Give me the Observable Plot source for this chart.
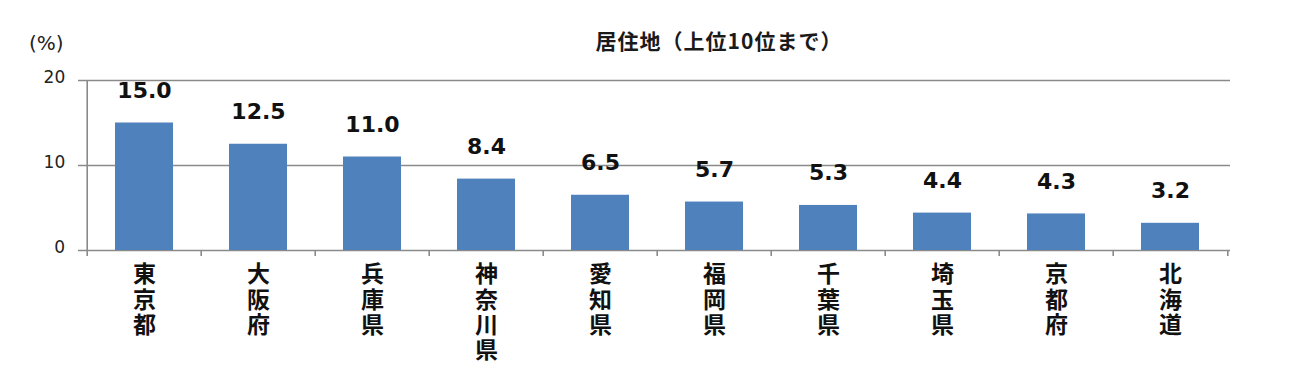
<!DOCTYPE html>
<html>
<head>
<meta charset="utf-8">
<script src="https://cdn.jsdelivr.net/npm/d3@7"></script>
<script src="https://cdn.jsdelivr.net/npm/@observablehq/plot@0.6"></script>
<style>
  body { margin: 0; background: #fff; }
  #wrap { position: relative; width: 1289px; height: 379px; overflow: hidden; }
  #title { position: absolute; left: 0; width: 1438px; top: 26px; text-align: center;
    font-family: "Noto Sans CJK JP", sans-serif; font-weight: bold; font-size: 21px; color: #1a1a1a; line-height: 28px; letter-spacing: 1px; }
  #unit { position: absolute; left: 29px; top: 31px; font-family: "DejaVu Sans", sans-serif; font-size: 20px; color: #222; }
  #chart { position: absolute; left: 0; top: 0; }
</style>
</head>
<body>
<div id="wrap">
  <div id="chart"></div>
  <div id="title">居住地（上位10位まで）</div>
  <div id="unit">(%)</div>
</div>
<script>
const categories = ["東京都", "大阪府", "兵庫県", "神奈川県", "愛知県", "福岡県", "千葉県", "埼玉県", "京都府", "北海道"];
const values = [15.0, 12.5, 11.0, 8.4, 6.5, 5.7, 5.3, 4.4, 4.3, 3.2];
const yTicks = [0, 10, 20];

const data = categories.map((c, i) => ({name: c, value: values[i]}));

const W = 1289, H = 379;
const mL = 84, mR = 59, mT = 80, mB = 129;
const step = (W - mL - mR) / categories.length;

const plot = Plot.plot({
  width: W,
  height: H,
  marginLeft: mL,
  marginRight: mR,
  marginTop: mT,
  marginBottom: mB,
  style: {background: "transparent", overflow: "visible"},
  x: {domain: categories, paddingInner: 0.49, paddingOuter: 0.245, axis: null},
  y: {domain: [0, 20], axis: null},
  marks: [
    Plot.ruleY(yTicks, {y: d => d, stroke: "#8a8a8a", strokeWidth: 1.6, insetLeft: -6}),
    Plot.ruleX(categories.slice(0, 1), {x: d => d, y1: 20, y2: 0, dx: -step / 2, stroke: "#8a8a8a", strokeWidth: 1.6, insetBottom: -6}),
    Plot.ruleX(categories.slice(1), {x: d => d, y1: 0, y2: 0, dx: -step / 2, stroke: "#8a8a8a", strokeWidth: 1.6, insetBottom: -6}),
    Plot.ruleX(categories.slice(-1), {x: d => d, y1: 0, y2: 0, dx: step / 2, stroke: "#8a8a8a", strokeWidth: 1.6, insetBottom: -6}),
    Plot.barY(data, {x: "name", y: "value", fill: "#4F81BD"}),
    Plot.text(yTicks, {x: () => categories[0], y: d => d, text: d => String(d), dx: -step / 2 - 22, dy: -3, textAnchor: "end",
      fontFamily: "DejaVu Sans", fontSize: 17, fill: "#222"}),
    Plot.text(data, {x: "name", y: "value", text: d => d.value.toFixed(1), dy: -32,
      fontFamily: "DejaVu Sans", fontWeight: "bold", fontSize: 22, fill: "#111"}),
    Plot.text(data, {x: "name", y: () => 0, text: d => d.name.split("").join("\n"), dy: 14, lineAnchor: "top", lineHeight: 1.1,
      fontFamily: "Noto Sans CJK JP", fontWeight: "bold", fontSize: 23, fill: "#111"})
  ]
});
document.getElementById("chart").appendChild(plot);
</script>
</body>
</html>
